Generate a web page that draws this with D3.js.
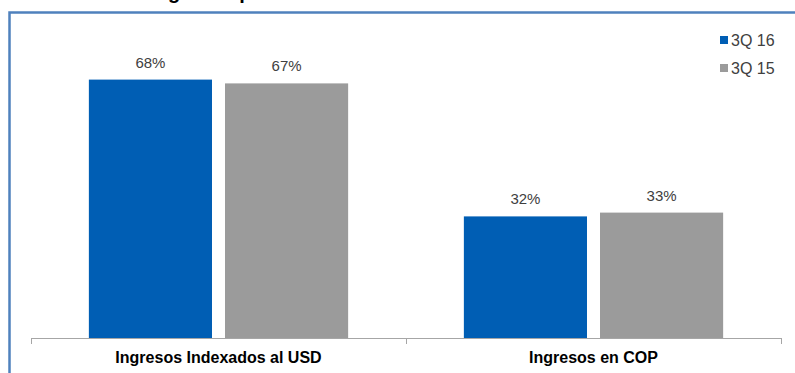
<!DOCTYPE html>
<html><head><meta charset="utf-8">
<script src="https://cdn.jsdelivr.net/npm/d3@7"></script>
<style>
html,body{margin:0;padding:0;background:#fff;}
svg{display:block;font-family:"Liberation Sans",Arial,sans-serif;}
</style></head>
<body>
<svg id="c" width="795" height="373"></svg>
<script>
const categories = ["Ingresos Indexados al USD", "Ingresos en COP"];
const seriesNames = ["3Q 16", "3Q 15"];
const values3Q16 = [68, 32];
const values3Q15 = [67, 33];
const seriesColors = ["#005EB4", "#9B9B9B"];
const titleText = "Distribución de Ingresos por Moneda";

const svg = d3.select("#c");
const W = 795, H = 373;
const x0 = 31, x1 = 781, yBase = 338;

// partially visible title at top (only descenders show, as in the reference)
const title = svg.append("text").attr("y", -1)
  .attr("font-weight", "bold").attr("font-size", 20).attr("fill", "#000")
  .text(titleText);
const gIdx = titleText.indexOf("g");
const pre = title.node().getSubStringLength(0, gIdx);
title.attr("x", 168 - pre);

// frame
svg.append("path")
  .attr("d", `M9.5,${H} L9.5,12.5 L${W},12.5`)
  .attr("fill", "none").attr("stroke", "#4F81BD").attr("stroke-width", 2.5);

const x = d3.scaleBand().domain(categories).range([x0, x1]).paddingInner(0).paddingOuter(0);
const xs = d3.scaleBand().domain(seriesNames).range([0, x.bandwidth()]).paddingOuter(0.425).paddingInner(0.0956);
const y = d3.scaleLinear().domain([0, 80]).range([yBase, yBase - 80 * 3.8]);

const data = categories.map((c, i) => ({cat: c, vals: [values3Q16[i], values3Q15[i]]}));

const g = svg.append("g");
data.forEach(d => {
  d.vals.forEach((v, j) => {
    const bx = x(d.cat) + xs(seriesNames[j]);
    g.append("rect").attr("x", bx).attr("y", y(v))
      .attr("width", xs.bandwidth()).attr("height", y(0) - y(v))
      .attr("fill", seriesColors[j]);
    g.append("text").attr("x", bx + xs.bandwidth() / 2).attr("y", y(v) - 12)
      .attr("text-anchor", "middle").attr("font-size", 15).attr("fill", "#404040")
      .text(v + "%");
  });
});

// axis
const ax = svg.append("g").attr("transform", `translate(0,${yBase})`)
  .call(d3.axisBottom(x).tickSize(0).tickFormat(""));
ax.select(".domain").remove();
ax.append("line").attr("x1", x0).attr("x2", x1).attr("y1", 0.5).attr("y2", 0.5)
  .attr("stroke", "#A6A6A6").attr("stroke-width", 1);
const bounds = [x0, x(categories[1]), x1];
bounds.forEach(b => {
  ax.append("line").attr("x1", Math.round(b) + 0.5).attr("x2", Math.round(b) + 0.5)
    .attr("y1", 0).attr("y2", 6).attr("stroke", "#A6A6A6");
});
categories.forEach(c => {
  ax.append("text").attr("x", x(c) + x.bandwidth() / 2).attr("y", 25)
    .attr("text-anchor", "middle").attr("font-weight", "bold").attr("font-size", 16)
    .attr("fill", "#000").text(c);
});

// legend
const lg = svg.append("g");
seriesNames.forEach((s, i) => {
  const ly = 40 + i * 28;
  lg.append("rect").attr("x", 720).attr("y", ly - 4).attr("width", 8).attr("height", 8)
    .attr("fill", seriesColors[i]);
  lg.append("text").attr("x", 731).attr("y", ly + 6).attr("font-size", 16)
    .attr("fill", "#404040").text(s);
});
</script>
</body></html>
